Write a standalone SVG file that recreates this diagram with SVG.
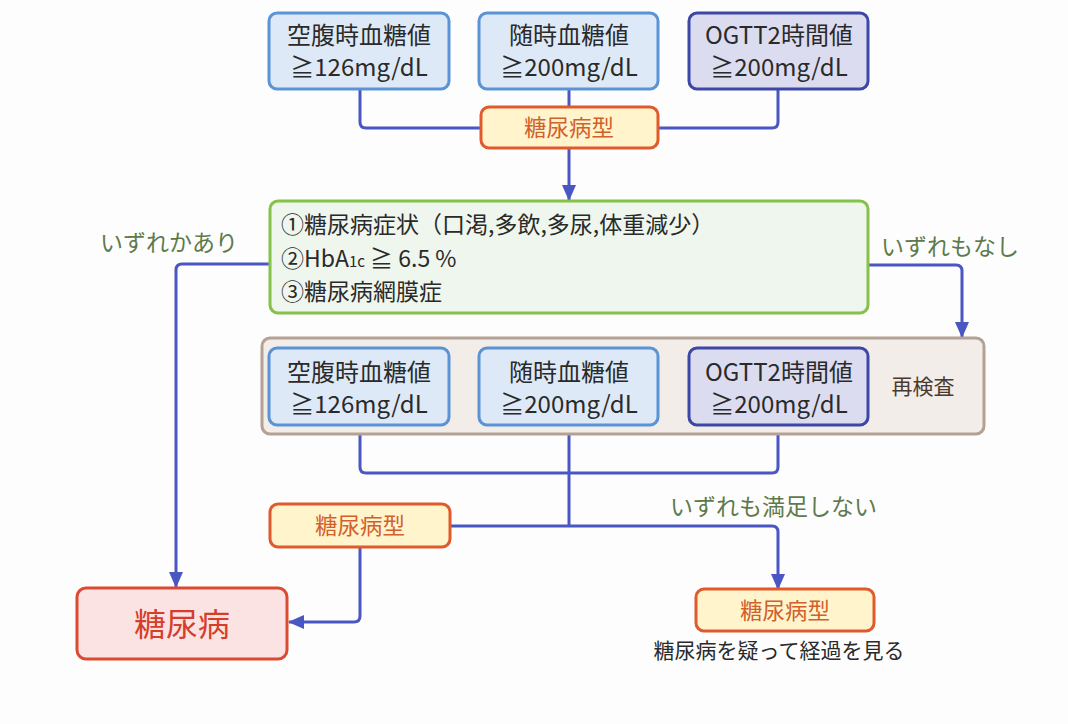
<svg xmlns="http://www.w3.org/2000/svg" width="1068" height="724" viewBox="0 0 1068 724">
<defs>
<style>
text{font-family:"Noto Sans CJK JP","Noto Sans",sans-serif;}
.bl{fill:#dde9f6;stroke:#5a93d6;stroke-width:3;}
.nv{fill:#dcdcf1;stroke:#3c47a6;stroke-width:3;}
.or{fill:#fff4cc;stroke:#df5a2c;stroke-width:3;}
.gr{fill:#eef6ee;stroke:#85c249;stroke-width:3;}
.br{fill:#f2ede9;stroke:#b3a293;stroke-width:3;}
.rd{fill:#fbe3e3;stroke:#dc4a31;stroke-width:3;}
.t{font-size:24px;fill:#2a2a2a;text-anchor:middle;}
.ot{font-size:22.5px;fill:#d2602a;text-anchor:middle;}
.lb{font-size:23px;fill:#5e7a4c;}
.gt{font-size:23px;fill:#2a2a2a;}
.c{fill:none;stroke:#4a57c2;stroke-width:3;}
</style>
<marker id="ah" markerUnits="userSpaceOnUse" markerWidth="16" markerHeight="14" refX="15" refY="7" orient="auto">
<path d="M0,0 L16,7 L0,14 z" fill="#4a57c2"/>
</marker>
</defs>
<rect width="1068" height="724" fill="#fdfdfd"/>

<g id="connectors">
<path class="c" d="M360,89 V122 Q360,128 366,128 H481"/>
<path class="c" d="M569,89 V107"/>
<path class="c" d="M778,89 V122 Q778,128 772,128 H658"/>
<path class="c" d="M569,148 V200" marker-end="url(#ah)"/>
<path class="c" d="M270,264 H182 Q176,264 176,270 V587" marker-end="url(#ah)"/>
<path class="c" d="M868,265 H956 Q962,265 962,271 V337" marker-end="url(#ah)"/>
<path class="c" d="M360,425 V467 Q360,473 366,473 H772 Q778,473 778,467 V425"/>
<path class="c" d="M569,425 V526"/>
<path class="c" d="M450,526 H772 Q778,526 778,532 V589" marker-end="url(#ah)"/>
<path class="c" d="M360,547 V616 Q360,622 354,622 H289" marker-end="url(#ah)"/>
</g>

<g id="fasting1">
<rect class="bl" x="269" y="13" width="180" height="76" rx="8"/>
<text class="t" x="359" y="44">空腹時血糖値</text>
<text class="t" x="359" y="76">≧126mg/dL</text>
</g>
<g id="random1">
<rect class="bl" x="479" y="13" width="179" height="76" rx="8"/>
<text class="t" x="569" y="44">随時血糖値</text>
<text class="t" x="569" y="76">≧200mg/dL</text>
</g>
<g id="ogtt1">
<rect class="nv" x="689" y="13" width="179" height="76" rx="8"/>
<text class="t" x="779" y="44">OGTT2時間値</text>
<text class="t" x="779" y="76">≧200mg/dL</text>
</g>
<g id="type1">
<rect class="or" x="481" y="107" width="177" height="41" rx="8"/>
<text class="ot" x="569" y="136">糖尿病型</text>
</g>

<g id="criteria">
<rect class="gr" x="270" y="201" width="598" height="112" rx="8"/>
<text class="gt" x="281" y="233">①糖尿病症状（口渇,多飲,多尿,体重減少）</text>
<text class="gt" x="281" y="267">②HbA<tspan font-size="15">1c</tspan> ≧ 6.5 %</text>
<text class="gt" x="281" y="300">③糖尿病網膜症</text>
</g>
<text class="lb" x="100" y="251">いずれかあり</text>
<text class="lb" x="881" y="255">いずれもなし</text>

<g id="retest">
<rect class="br" x="262" y="338" width="722" height="96" rx="8"/>
<text font-size="21" fill="#4a3a30" x="923" y="394" text-anchor="middle">再検査</text>
</g>
<g id="fasting2">
<rect class="bl" x="269" y="348" width="180" height="77" rx="8"/>
<text class="t" x="359" y="381">空腹時血糖値</text>
<text class="t" x="359" y="413">≧126mg/dL</text>
</g>
<g id="random2">
<rect class="bl" x="479" y="348" width="179" height="77" rx="8"/>
<text class="t" x="569" y="381">随時血糖値</text>
<text class="t" x="569" y="413">≧200mg/dL</text>
</g>
<g id="ogtt2">
<rect class="nv" x="689" y="348" width="179" height="77" rx="8"/>
<text class="t" x="779" y="381">OGTT2時間値</text>
<text class="t" x="779" y="413">≧200mg/dL</text>
</g>

<g id="type2">
<rect class="or" x="270" y="504" width="180" height="43" rx="8"/>
<text class="ot" x="360" y="534">糖尿病型</text>
</g>
<text class="lb" x="670" y="515">いずれも満足しない</text>

<g id="diabetes">
<rect class="rd" x="77" y="588" width="210" height="71" rx="9"/>
<text font-size="32" fill="#d63d2b" x="182" y="636" text-anchor="middle">糖尿病</text>
</g>

<g id="type3">
<rect class="or" x="696" y="589" width="178" height="42" rx="8"/>
<text class="ot" x="785" y="619">糖尿病型</text>
<text font-size="21" fill="#2a2a2a" x="779" y="658" text-anchor="middle">糖尿病を疑って経過を見る</text>
</g>
</svg>
